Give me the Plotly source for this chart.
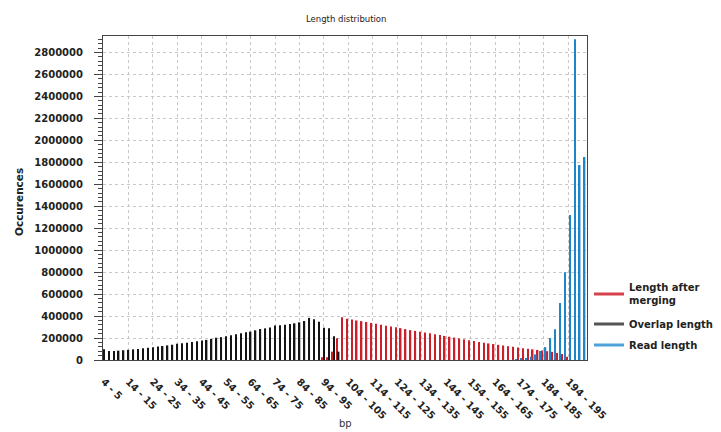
import plotly.graph_objects as go

# ---- data ----
bin_starts = list(range(4, 202, 2))
bins = [f"{s} - {s + 1}" for s in bin_starts]          # 99 categories "4 - 5" ... "200 - 201"
tick_bins = bins[::5]                                     # labelled every 5th bin

overlap_first = 0       # index into bins
overlap_counts = [98000, 82000, 83000, 85000, 89000, 93000, 97000, 101000, 106000, 111000,
                  117000, 122000, 127000, 133000, 139000, 148000, 152000, 158000, 163000, 170000,
                  177000, 183000, 192000, 203000, 208000, 216000, 226000, 235000, 243000, 252000,
                  258000, 270000, 282000, 288000, 297000, 313000, 316000, 322000, 328000, 334000,
                  343000, 355000, 383000, 371000, 349000, 294000, 288000, 216000, 76000]

merged_first = 45
merged_counts = [25000, 25000, 76000, 197000, 389000, 375000, 368000, 360000, 354000, 346000,
                 338000, 330000, 320000, 312000, 305000, 298000, 290000, 281000, 272000, 265000,
                 258000, 250000, 243000, 235000, 228000, 219000, 212000, 204000, 196000, 188000,
                 180000, 172000, 165000, 158000, 151000, 145000, 138000, 132000, 126000, 120000,
                 114000, 108000, 103000, 97000, 92000, 86000, 80000, 74000, 64000, 55000, 30000]

read_first = 84
read_counts = [5000, 10000, 18000, 30000, 51000, 82000, 117000, 200000, 281000, 520000,
               800000, 1320000, 2920000, 1775000, 1848000]

series_names = ["Length after merging", "Overlap length", "Read length"]
legend_labels = ["Length after<br>merging", "Overlap length", "Read length"]
bar_colors = ["#cc1f2c", "#141414", "#1f84c8"]
legend_colors = ["#d6424a", "#555555", "#4ea3dc"]

FONT = "DejaVu Sans"

fig = go.Figure()
for name, first, vals, col in [
    (series_names[0], merged_first, merged_counts, bar_colors[0]),
    (series_names[1], overlap_first, overlap_counts, bar_colors[1]),
    (series_names[2], read_first, read_counts, bar_colors[2]),
]:
    fig.add_trace(go.Bar(
        x=bins[first:first + len(vals)], y=vals, name=name,
        marker=dict(color=col, line=dict(width=0)), showlegend=False,
    ))

L, R, T, B = 103, 587, 36, 360
W, H = 721, 432
pw, ph = R - L, B - T

def px(x):
    return (x - L) / pw

def py(y):
    return (B - y) / ph

# legend entries drawn as line samples, one legend box per entry
legend_ids = ["legend", "legend2", "legend3"]
legend_centers = [294, 324, 345]
for lab, col, lid in zip(legend_labels, legend_colors, legend_ids):
    fig.add_trace(go.Scatter(x=[None], y=[None], mode="lines", name=lab, legend=lid,
                             line=dict(color=col, width=3), showlegend=True))

legend_font = dict(family=FONT, size=10, color="#222222", weight="bold")
legend_boxes = {}
for lid, cy in zip(legend_ids, legend_centers):
    legend_boxes[lid] = dict(x=px(589), y=py(cy), xanchor="left", yanchor="middle",
                             font=legend_font, bgcolor="rgba(0,0,0,0)", borderwidth=0,
                             valign="middle")

fig.update_layout(
    width=W, height=H,
    margin=dict(l=L, r=W - R, t=T, b=H - B, pad=0, autoexpand=False),
    paper_bgcolor="white", plot_bgcolor="white",
    font=dict(family=FONT, size=10, color="#222222"),
    barmode="group", bargap=0.08, bargroupgap=0,
    showlegend=True,
    **legend_boxes,
    annotations=[
        dict(text="Length distribution", x=px(346), y=py(19), xref="paper", yref="paper",
             showarrow=False, xanchor="center", yanchor="middle",
             font=dict(family=FONT, size=8.5, color="#222222")),
        dict(text="Occurences", x=px(19), y=py(202), xref="paper", yref="paper",
             showarrow=False, xanchor="center", yanchor="middle", textangle=-90,
             font=dict(family=FONT, size=10.5, color="#222222", weight="bold")),
        dict(text="bp", x=px(345), y=py(423), xref="paper", yref="paper",
             showarrow=False, xanchor="center", yanchor="middle",
             font=dict(family=FONT, size=10, color="#333333")),
    ],
)

fig.update_xaxes(
    type="category", categoryorder="array", categoryarray=bins,
    range=[-0.2, 98.8],
    tickmode="array", tickvals=tick_bins, ticktext=tick_bins,
    tickangle=45, ticks="", ticklabelstandoff=11,
    tickfont=dict(family=FONT, size=10, color="#222222", weight="bold"),
    showgrid=True, gridcolor="#c8c8c8", griddash="dot", gridwidth=1,
    showline=True, linecolor="#444444", linewidth=1, mirror=True,
    zeroline=False,
)
fig.update_yaxes(
    range=[0, 2950000], dtick=200000, tick0=0, tickformat="d",
    ticks="outside", ticklen=8, tickwidth=1, tickcolor="#444444",
    ticklabelstandoff=9,
    tickfont=dict(family=FONT, size=10, color="#222222", weight="bold"),
    minor=dict(dtick=40000, ticks="outside", ticklen=4, tickcolor="#444444", showgrid=False),
    showgrid=True, gridcolor="#c8c8c8", griddash="dot", gridwidth=1,
    showline=True, linecolor="#444444", linewidth=1, mirror=True,
    zeroline=False,
)

fig.write_html(
    "out.html",
    config={"displayModeBar": False},
    post_script="document.body.style.margin='0px';document.body.style.overflow='hidden';",
)
